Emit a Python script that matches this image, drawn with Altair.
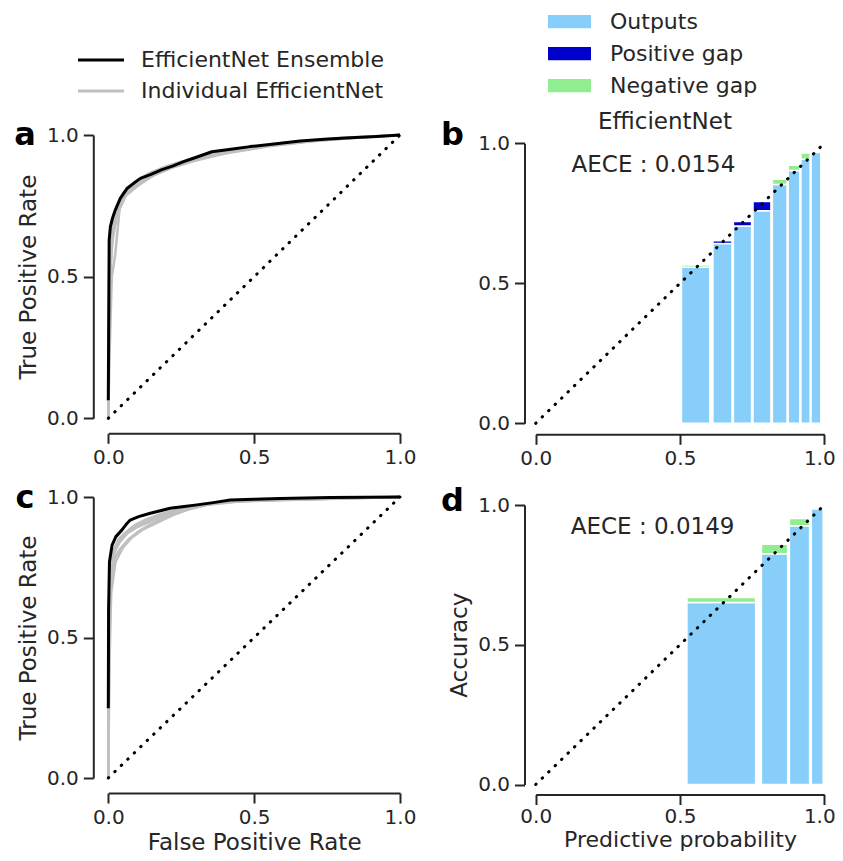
import altair as alt
import pandas as pd

tick_values = [0.0, 0.5, 1.0]
line_models = ["EfficientNet Ensemble", "Individual EfficientNet"]
line_colors = ["#000000", "#c0c0c0"]
bar_kinds = ["Outputs", "Positive gap", "Negative gap"]
bar_colors = ["#87cefa", "#0000cd", "#90ee90"]

# ---------------- panel a : ROC (top) ----------------
a_ens_fpr = [0.000, 0.002, 0.003, 0.007, 0.014, 0.024, 0.041, 0.064, 0.090, 0.110, 0.144, 0.184,
             0.220, 0.258, 0.292, 0.355, 0.420, 0.486, 0.560, 0.658, 0.740, 0.829, 0.920, 1.000]
a_ens_tpr = [0.064, 0.450, 0.629, 0.676, 0.705, 0.735, 0.776, 0.811, 0.832, 0.847, 0.860, 0.878,
             0.890, 0.906, 0.918, 0.941, 0.950, 0.959, 0.967, 0.979, 0.985, 0.990, 0.995, 1.000]
a_ind_fpr = [
    [0.0, 0.002, 0.008, 0.02, 0.04, 0.07, 0.11, 0.16, 0.22, 0.30, 0.40, 0.50, 0.65, 0.80, 1.0],
    [0.0, 0.005, 0.012, 0.024, 0.041, 0.07, 0.12, 0.18, 0.26, 0.35, 0.45, 0.60, 0.80, 1.0],
    [0.0, 0.003, 0.010, 0.025, 0.05, 0.09, 0.14, 0.20, 0.27, 0.35, 0.45, 0.60, 0.80, 1.0],
    [0.0, 0.003, 0.010, 0.03, 0.06, 0.10, 0.15, 0.22, 0.30, 0.40, 0.55, 0.70, 0.85, 1.0],
    [0.0, 0.004, 0.015, 0.035, 0.06, 0.10, 0.16, 0.24, 0.32, 0.42, 0.55, 0.70, 0.90, 1.0],
]
a_ind_tpr = [
    [0.0, 0.30, 0.55, 0.70, 0.77, 0.805, 0.84, 0.868, 0.89, 0.915, 0.94, 0.955, 0.975, 0.988, 1.0],
    [0.0, 0.25, 0.50, 0.58, 0.764, 0.80, 0.835, 0.872, 0.90, 0.93, 0.95, 0.97, 0.987, 1.0],
    [0.02, 0.50, 0.66, 0.74, 0.795, 0.835, 0.865, 0.89, 0.912, 0.935, 0.952, 0.972, 0.99, 1.0],
    [0.0, 0.40, 0.60, 0.72, 0.785, 0.82, 0.855, 0.885, 0.91, 0.935, 0.96, 0.978, 0.99, 1.0],
    [0.01, 0.45, 0.65, 0.75, 0.79, 0.83, 0.87, 0.90, 0.92, 0.94, 0.962, 0.98, 0.995, 1.0],
]

# ---------------- panel c : ROC (bottom) ----------------
c_ens_fpr = [0.000, 0.001, 0.004, 0.013, 0.026, 0.047, 0.064, 0.075, 0.104, 0.144, 0.175, 0.212,
             0.260, 0.304, 0.360, 0.418, 0.500, 0.589, 0.760, 1.000]
c_ens_tpr = [0.248, 0.600, 0.770, 0.829, 0.859, 0.883, 0.906, 0.918, 0.930, 0.942, 0.950, 0.960,
             0.966, 0.972, 0.980, 0.989, 0.992, 0.995, 0.998, 1.000]
c_ind_fpr = [
    [0.0, 0.002, 0.006, 0.015, 0.03, 0.05, 0.075, 0.11, 0.15, 0.20, 0.26, 0.33, 0.42, 0.60, 0.80, 1.0],
    [0.0, 0.003, 0.008, 0.02, 0.04, 0.07, 0.10, 0.14, 0.19, 0.25, 0.32, 0.40, 0.55, 0.75, 1.0],
    [0.0, 0.002, 0.006, 0.018, 0.035, 0.06, 0.09, 0.13, 0.18, 0.24, 0.30, 0.38, 0.50, 0.70, 1.0],
    [0.0, 0.004, 0.010, 0.025, 0.05, 0.08, 0.12, 0.17, 0.22, 0.28, 0.35, 0.45, 0.65, 0.85, 1.0],
    [0.0, 0.002, 0.007, 0.02, 0.04, 0.065, 0.10, 0.15, 0.20, 0.27, 0.34, 0.45, 0.60, 0.80, 1.0],
    [0.0, 0.003, 0.008, 0.02, 0.04, 0.07, 0.10, 0.14, 0.19, 0.25, 0.32, 0.42, 0.60, 0.80, 1.0],
]
c_ind_tpr = [
    [0.0, 0.50, 0.72, 0.79, 0.83, 0.86, 0.885, 0.905, 0.925, 0.945, 0.96, 0.975, 0.985, 0.99, 0.995, 1.0],
    [0.0, 0.45, 0.70, 0.78, 0.815, 0.85, 0.875, 0.90, 0.925, 0.948, 0.97, 0.982, 0.988, 0.993, 1.0],
    [0.05, 0.60, 0.75, 0.81, 0.85, 0.875, 0.90, 0.92, 0.94, 0.955, 0.968, 0.98, 0.988, 0.994, 1.0],
    [0.0, 0.40, 0.66, 0.77, 0.82, 0.855, 0.885, 0.91, 0.935, 0.958, 0.975, 0.985, 0.99, 0.996, 1.0],
    [0.1, 0.55, 0.74, 0.805, 0.84, 0.87, 0.893, 0.915, 0.935, 0.955, 0.972, 0.984, 0.99, 0.996, 1.0],
    [0.0, 0.50, 0.72, 0.80, 0.845, 0.878, 0.90, 0.918, 0.938, 0.958, 0.975, 0.986, 0.992, 0.997, 1.0],
]

# ---------------- panel b : reliability (top) ----------------
b_left = [0.505, 0.614, 0.685, 0.753, 0.820, 0.875, 0.919, 0.954]
b_right = [0.603, 0.680, 0.748, 0.815, 0.871, 0.915, 0.951, 0.988]
b_output = [0.557, 0.642, 0.705, 0.759, 0.853, 0.903, 0.943, 0.967]
b_gap_top = [0.565, 0.652, 0.721, 0.792, 0.872, 0.922, 0.965, 0.967]
b_gap_kind = ["Negative gap", "Positive gap", "Positive gap", "Positive gap",
              "Negative gap", "Negative gap", "Negative gap", "Negative gap"]

# ---------------- panel d : reliability (bottom) ----------------
d_left = [0.524, 0.782, 0.879, 0.955]
d_right = [0.762, 0.873, 0.949, 0.996]
d_output = [0.651, 0.826, 0.926, 0.986]
d_gap_top = [0.669, 0.860, 0.952, 0.986]
d_gap_kind = ["Negative gap", "Negative gap", "Negative gap", "Negative gap"]

diag_x = [0.0, 1.0]
diag_y = [0.0, 1.0]

FONT = "DejaVu Sans"
TXT = "#262626"
H = 845


def roc_frames(ens_fpr, ens_tpr, ind_fpr, ind_tpr):
    rows = []
    for k, (fs, ts) in enumerate(zip(ind_fpr, ind_tpr)):
        for i, (f, t) in enumerate(zip(fs, ts)):
            rows.append({"x": f, "y": t, "curve": f"ind{k}", "idx": i, "model": line_models[1]})
    ind = pd.DataFrame(rows)
    ens = pd.DataFrame({"x": ens_fpr, "y": ens_tpr, "idx": list(range(len(ens_fpr)))})
    ens["curve"] = "ens"
    ens["model"] = line_models[0]
    return ind, ens


def bar_frame(left, right, output, gap_top, gap_kind):
    rows = []
    for l, r, o in zip(left, right, output):
        rows.append({"x": l, "x2": r, "y": 0.0, "y2": o, "kind": "Outputs"})
    for l, r, o, g, k in zip(left, right, output, gap_top, gap_kind):
        if g > o:
            rows.append({"x": l, "x2": r, "y": o, "y2": g, "kind": k})
    return pd.DataFrame(rows)


def enc(xr, yr, x_spine, y_spine, xtitle, ytitle, x_tpad=4, x_lpad=4, x_tsize=23,
        pull_last=False):
    xa = dict(values=tick_values, format=".1f", orient="bottom", offset=x_spine - H,
              labelFlush=False, labelPadding=x_lpad, titlePadding=x_tpad,
              titleFontSize=x_tsize)
    if pull_last:
        xa["labelOffset"] = {"condition": {"test": "datum.value == 1", "value": -5}, "value": 0}
    ya = dict(values=tick_values, format=".1f", orient="left", offset=-y_spine,
              labelFlush=False, labelPadding=5, titlePadding=6)
    X = alt.X("x:Q", scale=alt.Scale(domain=[0, 1], range=xr), axis=alt.Axis(**xa),
              title=xtitle if xtitle else None)
    Y = alt.Y("y:Q", scale=alt.Scale(domain=[0, 1], range=yr), axis=alt.Axis(**ya),
              title=ytitle if ytitle else None)
    return X, Y


def diag_layer(X, Y):
    return alt.Chart(pd.DataFrame({"x": diag_x, "y": diag_y})).mark_line(
        color="black", strokeDash=[0.5, 8.5], strokeCap="round", strokeWidth=3
    ).encode(x=X, y=Y)


def roc_panel(ens_fpr, ens_tpr, ind_fpr, ind_tpr, xr, yr, xs, ys, xtitle, ytitle, legend):
    ind, ens = roc_frames(ens_fpr, ens_tpr, ind_fpr, ind_tpr)
    X, Y = enc(xr, yr, xs, ys, xtitle, ytitle)
    cs = alt.Scale(domain=line_models, range=line_colors)
    C = alt.Color("model:N", scale=cs, legend=legend)
    grey = alt.Chart(ind).mark_line(strokeWidth=2.5, strokeJoin="round").encode(
        x=X, y=Y, color=C, detail="curve:N", order="idx:Q")
    black = alt.Chart(ens).mark_line(strokeWidth=3, strokeJoin="round").encode(
        x=X, y=Y, color=C, detail="curve:N", order="idx:Q")
    return alt.layer(grey, black, diag_layer(X, Y))


def cal_panel(left, right, output, gap_top, gap_kind, xr, yr, xs, ys, xtitle, ytitle,
              legend, texts, x_tpad=4, x_lpad=4, x_tsize=23):
    df = bar_frame(left, right, output, gap_top, gap_kind)
    X, Y = enc(xr, yr, xs, ys, xtitle, ytitle, x_tpad=x_tpad, x_lpad=x_lpad,
               x_tsize=x_tsize, pull_last=True)
    cs = alt.Scale(domain=bar_kinds, range=bar_colors)
    bars = alt.Chart(df).mark_rect(stroke="white", strokeWidth=1.5).encode(
        x=X, x2="x2:Q", y=Y, y2="y2:Q", color=alt.Color("kind:N", scale=cs, legend=legend))
    layers = [bars, diag_layer(X, Y)]
    for tx, ty, label in texts:
        layers.append(
            alt.Chart(pd.DataFrame({"x": [tx], "y": [ty], "label": [label]})).mark_text(
                font=FONT, fontSize=23, color=TXT, align="center", baseline="middle"
            ).encode(x=X, y=Y, text="label:N"))
    return alt.layer(*layers)


line_legend = alt.Legend(orient="none", legendX=68.5, legendY=36.5, title=None,
                         symbolType="stroke", symbolStrokeWidth=3, symbolSize=2116,
                         labelFontSize=22, labelFont=FONT, labelColor=TXT, labelOffset=15.5,
                         labelLimit=0, rowPadding=0, clipHeight=31)
bar_legend = alt.Legend(orient="none", legendX=540, legendY=-2.2, title=None,
                        symbolType="M-1,-0.31L1,-0.31L1,0.31L-1,0.31Z", symbolSize=1849,
                        symbolStrokeWidth=0, labelFontSize=22, labelFont=FONT,
                        labelColor=TXT, labelOffset=19, labelLimit=0, rowPadding=0,
                        clipHeight=31.7)

pa = roc_panel(a_ens_fpr, a_ens_tpr, a_ind_fpr, a_ind_tpr,
               [100.3, 392], [410.3, 127], 425.3, 85.3, None, "True Positive Rate", line_legend)
pc = roc_panel(c_ens_fpr, c_ens_tpr, c_ind_fpr, c_ind_tpr,
               [100.3, 392], [770, 489], 785, 85.3, "False Positive Rate", "True Positive Rate",
               None)
pb = cal_panel(b_left, b_right, b_output, b_gap_top, b_gap_kind,
               [527.7, 816.3], [415.3, 135.3], 426.3, 516.5, None, None, bar_legend,
               [(0.448, 1.077, "EfficientNet"), (0.408, 0.922, "AECE : 0.0154")])
pd_ = cal_panel(d_left, d_right, d_output, d_gap_top, d_gap_kind,
                [527.7, 816.3], [776.5, 497], 786.5, 516.5, "Predictive probability", "Accuracy",
                None, [(0.405, 0.9225, "AECE : 0.0149")], x_tpad=3.8, x_lpad=1.5, x_tsize=22)


def letter(ch, px, py):
    return alt.Chart(pd.DataFrame({"t": [ch]})).mark_text(
        font=FONT, fontSize=32, fontWeight="bold", color="black", align="center",
        baseline="alphabetic").encode(text="t:N", x=alt.value(px), y=alt.value(py))


chart = alt.layer(
    pa, pb, pc, pd_,
    letter("a", 17, 137), letter("b", 444.5, 137), letter("c", 17, 500), letter("d", 444.5, 503),
).resolve_scale(
    x="independent", y="independent", color="independent"
).properties(
    width=827, height=H, padding=0, autosize=alt.AutoSizeParams(type="none")
).configure_view(stroke=None).configure_axis(
    domainColor=TXT, domainWidth=2, tickColor=TXT, tickWidth=2, tickSize=10,
    labelFont=FONT, labelFontSize=20, labelColor=TXT,
    titleFont=FONT, titleFontSize=23, titleFontWeight="normal", titleColor=TXT,
    grid=False,
)

chart.save("out.html", embed_options={"renderer": "svg", "actions": False})
